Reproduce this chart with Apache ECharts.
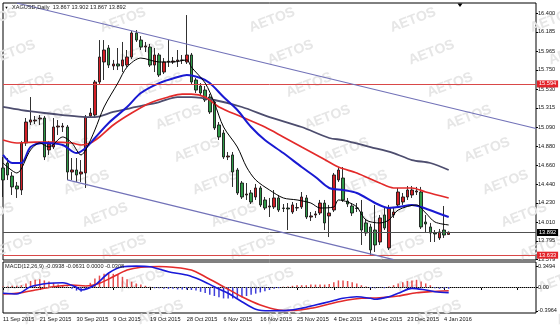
<!DOCTYPE html>
<html><head><meta charset="utf-8">
<script src="https://cdn.jsdelivr.net/npm/echarts@6.0.0/dist/echarts.min.js"></script>
<style>html,body{margin:0;padding:0;background:#fff}#c{width:560px;height:328px}</style>
</head><body><div id="c"></div>
<script>
// ---------- DATA ----------
const dates = ['11 Sep 2015','13 Sep 2015','14 Sep 2015','15 Sep 2015','16 Sep 2015','17 Sep 2015','18 Sep 2015','20 Sep 2015','21 Sep 2015','22 Sep 2015',
'23 Sep 2015','24 Sep 2015','25 Sep 2015','27 Sep 2015','28 Sep 2015','29 Sep 2015','30 Sep 2015','1 Oct 2015','2 Oct 2015','4 Oct 2015',
'5 Oct 2015','6 Oct 2015','7 Oct 2015','8 Oct 2015','9 Oct 2015','11 Oct 2015','12 Oct 2015','13 Oct 2015','14 Oct 2015','15 Oct 2015',
'16 Oct 2015','18 Oct 2015','19 Oct 2015','20 Oct 2015','21 Oct 2015','22 Oct 2015','23 Oct 2015','25 Oct 2015','26 Oct 2015','27 Oct 2015',
'28 Oct 2015','29 Oct 2015','30 Oct 2015','1 Nov 2015','2 Nov 2015','3 Nov 2015','4 Nov 2015','5 Nov 2015','6 Nov 2015','8 Nov 2015',
'9 Nov 2015','10 Nov 2015','11 Nov 2015','12 Nov 2015','13 Nov 2015','15 Nov 2015','16 Nov 2015','17 Nov 2015','18 Nov 2015','19 Nov 2015',
'20 Nov 2015','22 Nov 2015','23 Nov 2015','24 Nov 2015','25 Nov 2015','26 Nov 2015','27 Nov 2015','29 Nov 2015','30 Nov 2015','1 Dec 2015',
'2 Dec 2015','3 Dec 2015','4 Dec 2015','6 Dec 2015','7 Dec 2015','8 Dec 2015','9 Dec 2015','10 Dec 2015','11 Dec 2015','13 Dec 2015',
'14 Dec 2015','15 Dec 2015','16 Dec 2015','17 Dec 2015','18 Dec 2015','20 Dec 2015','21 Dec 2015','22 Dec 2015','23 Dec 2015','24 Dec 2015',
'27 Dec 2015','28 Dec 2015','29 Dec 2015','30 Dec 2015','31 Dec 2015','3 Jan 2016','4 Jan 2016','5 Jan 2016'];
const emptySlots = 19; // chart shift area on the right

const opens = [14.628,14.685,14.536,14.422,14.376,14.914,15.154,15.166,15.189,15.200,
14.834,14.868,15.097,15.097,15.097,14.582,14.605,14.559,14.571,15.223,
15.234,15.612,15.841,16.001,15.795,15.818,15.795,15.806,15.898,16.173,
16.092,16.012,16.012,15.806,15.921,15.726,15.841,15.841,15.852,15.864,
15.841,15.921,15.635,15.566,15.520,15.440,15.383,15.120,15.028,14.754,
14.777,14.605,14.456,14.319,14.342,14.296,14.399,14.262,14.182,14.182,
14.285,14.170,14.170,14.124,14.170,14.182,14.285,14.067,14.090,14.113,
14.227,14.079,14.147,14.491,14.513,14.250,14.193,14.170,14.124,13.999,
13.953,13.918,13.781,14.090,13.713,14.090,14.205,14.239,14.296,14.319,
14.353,14.353,14.010,13.953,13.884,13.827,13.918,13.867];
const closes = [14.491,14.548,14.411,14.388,14.914,15.154,15.177,15.177,15.200,14.754,
14.902,15.097,15.108,15.108,14.582,14.605,14.548,14.582,15.211,15.257,
15.612,15.898,15.978,15.806,15.818,15.795,15.864,15.898,16.173,16.092,
16.012,16.024,15.806,15.921,15.692,15.841,15.850,15.852,15.864,15.860,
15.921,15.612,15.520,15.486,15.406,15.269,15.086,14.983,14.754,14.765,
14.582,14.342,14.296,14.330,14.239,14.399,14.205,14.170,14.193,14.285,
14.147,14.165,14.159,14.205,14.175,14.296,14.067,14.079,14.102,14.227,
13.999,14.113,14.548,14.605,14.262,14.216,14.113,14.165,13.918,13.884,
13.690,13.747,14.056,13.941,14.170,14.124,14.353,14.296,14.376,14.376,
14.365,13.953,13.987,13.884,13.873,13.896,13.861,13.892];
const highs = [14.754,14.742,14.582,14.468,14.937,15.200,15.440,15.223,15.234,15.223,
14.937,15.200,15.177,15.143,15.120,14.742,14.742,14.719,15.234,15.314,
15.635,16.092,16.092,16.035,15.864,16.001,16.070,15.978,16.195,16.207,
16.138,16.070,16.047,16.001,15.944,15.886,16.092,15.898,15.978,15.921,
16.378,15.944,15.658,15.600,15.566,15.475,15.406,15.154,15.063,14.811,
14.811,14.628,14.479,14.456,14.376,14.445,14.422,14.296,14.285,14.376,
14.319,14.216,14.227,14.239,14.227,14.353,14.319,14.124,14.136,14.262,
14.262,14.205,14.571,14.639,14.639,14.285,14.227,14.227,14.262,14.044,
13.987,14.205,14.090,14.182,14.205,14.170,14.399,14.342,14.422,14.422,
14.411,14.411,14.090,13.999,13.918,13.930,14.193,13.902];
const lows = [14.296,14.491,14.319,14.285,14.319,14.880,15.120,15.131,15.120,14.719,
14.777,14.845,15.005,15.040,14.491,14.491,14.468,14.468,14.399,15.200,
15.211,15.589,15.635,15.772,15.749,15.749,15.726,15.784,15.875,16.070,
15.978,15.955,15.784,15.726,15.669,15.703,15.784,15.818,15.784,15.818,
15.818,15.589,15.486,15.452,15.383,15.246,15.063,14.948,14.731,14.719,
14.411,14.319,14.273,14.262,14.216,14.262,14.182,14.147,14.067,14.159,
14.124,14.124,13.918,14.102,14.136,14.159,14.044,14.021,14.056,14.090,
13.918,13.838,14.124,14.468,14.239,14.182,14.079,14.124,13.747,13.850,
13.633,13.667,13.747,13.918,13.690,14.056,14.170,14.205,14.262,14.285,
14.319,13.930,13.884,13.781,13.781,13.804,13.827,13.867];

// moving averages: [barIndex, price]
const maFast = [[0,14.685],[3,14.571],[6,14.834],[8,14.914],[10,14.868],[13,14.983],[15,14.914],[17,14.777],[18,14.834],[20,15.063],[22,15.326],[25,15.600],[27,15.783],[30,15.886],[34,15.841],[37,15.841],[40,15.864],[41,15.783],[44,15.600],[46,15.372],[48,15.097],[51,14.868],[53,14.639],[55,14.491],[58,14.376],[61,14.285],[64,14.262],[67,14.227],[69,14.170],[72,14.182],[73,14.262],[75,14.239],[77,14.182],[79,14.033],[82,13.999],[84,14.033],[86,14.147],[90,14.205],[92,14.113],[94,14.010],[97,13.976]];
const maMid = [[0,14.777],[2,14.685],[4,14.685],[6,14.868],[9,14.914],[13,14.891],[16,14.799],[18,14.857],[20,14.971],[23,15.143],[27,15.326],[30,15.486],[34,15.600],[38,15.669],[40,15.692],[43,15.658],[45,15.600],[48,15.440],[51,15.291],[54,15.097],[57,14.948],[61,14.799],[65,14.639],[68,14.525],[71,14.399],[74,14.376],[77,14.342],[81,14.227],[84,14.170],[86,14.182],[89,14.205],[91,14.182],[94,14.124],[97,14.067]];
const maSlow = [[0,14.948],[3,14.914],[7,14.925],[11,14.925],[15,14.914],[17,14.891],[19,14.914],[21,14.983],[24,15.120],[28,15.257],[32,15.372],[36,15.440],[39,15.474],[41,15.474],[44,15.440],[47,15.326],[52,15.211],[57,15.097],[61,14.983],[65,14.868],[69,14.754],[73,14.639],[77,14.571],[82,14.456],[85,14.399],[89,14.399],[92,14.353],[97,14.285]];
const maLong = [[0,15.326],[4,15.291],[9,15.257],[13,15.234],[18,15.211],[20,15.211],[24,15.269],[29,15.326],[34,15.383],[38,15.440],[41,15.440],[46,15.406],[52,15.326],[58,15.211],[65,15.097],[71,14.971],[74,14.948],[80,14.868],[85,14.799],[89,14.719],[93,14.685],[97,14.605]];

// MACD(12,26,9)
const macdLine = [[0,-0.105],[3,-0.117],[6,0.005],[10,0.062],[13,0.072],[16,-0.005],[17,-0.050],[20,0.033],[23,0.233],[26,0.338],[29,0.349],[32,0.338],[36,0.255],[40,0.200],[43,0.117],[46,0.005],[49,-0.105],[52,-0.245],[55,-0.370],[58,-0.396],[62,-0.390],[65,-0.355],[68,-0.300],[71,-0.245],[74,-0.188],[77,-0.162],[80,-0.188],[81,-0.205],[84,-0.162],[86,-0.105],[89,-0.022],[92,-0.050],[94,-0.078],[97,-0.094]];
const signalLine = [[0,-0.117],[4,-0.095],[7,-0.050],[11,0.005],[15,0.033],[18,0.017],[21,0.062],[24,0.172],[27,0.283],[30,0.330],[34,0.342],[37,0.330],[41,0.283],[44,0.172],[48,0.005],[52,-0.162],[56,-0.300],[60,-0.383],[63,-0.392],[67,-0.355],[71,-0.283],[75,-0.217],[78,-0.188],[82,-0.178],[86,-0.150],[90,-0.095],[93,-0.078],[97,-0.063]];
const macdHist = [0.01,0.01,0.02,0.02,0.03,0.06,0.10,0.12,0.13,0.11,
0.09,0.07,0.04,0.03,0.01,-0.03,-0.06,-0.08,-0.04,0.07,
0.14,0.19,0.22,0.23,0.22,0.20,0.17,0.13,0.09,0.06,
0.04,0.02,0.005,-0.02,-0.02,-0.03,-0.03,-0.03,-0.04,-0.04,
-0.04,-0.05,-0.06,-0.08,-0.10,-0.13,-0.15,-0.17,-0.19,-0.19,
-0.19,-0.18,-0.17,-0.15,-0.13,-0.11,-0.09,-0.07,-0.05,-0.03,
-0.02,0.005,0.01,0.02,0.03,0.03,0.03,0.04,0.04,0.04,
0.04,0.05,0.08,0.11,0.11,0.10,0.08,0.06,0.03,0.01,
-0.02,-0.02,-0.01,-0.02,0.01,0.03,0.06,0.08,0.10,0.11,
0.12,0.09,0.06,0.03,-0.02,-0.03,-0.03,-0.03];

// horizontal levels and channel
const levelResistance = 15.594;
const levelBid = 13.892;
const levelSupport = 13.633;
const levelTexts = ['15.594','13.892','13.633'];
const channelUpper = [[3,16.516],[116,15.080]];
const channelLower = [[14,14.491],[85,13.580]];

// tick labels
const priceTicks = [16.400,16.185,15.965,15.750,15.530,15.315,15.090,14.880,14.660,14.440,14.230,14.010,13.795,13.579];
const macdTicks = [0.3494,0,-0.3964];
const macdTickLabels = ['0.3494','0.00','-0.3964'];
const headerText = 'XAGUSD,Daily  13.867 13.902 13.867 13.892';
const macdHeader = 'MACD(12,26,9) -0.0938 -0.0631 0.0000 -0.0308';
const watermark = 'AETOS';

// ---------- CHART ----------
const FONT = 'Liberation Sans';
const FS = 5.6;
const cats = dates.slice();
for (let i = 0; i < emptySlots; i++) cats.push('');
const candleData = opens.map((o, i) => [o, closes[i], lows[i], highs[i]]);

const graphics = [];
// watermarks (layout only)
const wmColumns = [-46, 68, 197, 346, 487, 627];
wmColumns.forEach(cx => {
  for (let k = -6; k <= 6; k++) {
    const x = cx + 18.5 * k, y = 150 + 32.5 * k;
    if (x < -40 || x > 600 || y < -15 || y > 345) continue;
    graphics.push({type:'text', x, y, rotation:0.36, z:0, silent:true,
      style:{text:watermark, fill:'#e6e6e6', font:'bold 14px "'+FONT+'"', textAlign:'center', textVerticalAlign:'middle'}});
  }
});
graphics.push({type:'text', x:4.5, y:7.5, z:50, style:{text:'▼', fill:'#000', font:'4px "'+FONT+'"', textVerticalAlign:'middle'}});
graphics.push({type:'text', x:12, y:7.5, z:50, style:{text:headerText, fill:'#222', font:FS+'px "'+FONT+'"', textVerticalAlign:'middle'}});
graphics.push({type:'text', x:5, y:266.5, z:50, style:{text:macdHeader, fill:'#222', font:FS+'px "'+FONT+'"', textVerticalAlign:'middle'}});
graphics.push({type:'polygon', z:50, shape:{points:[[457.5,3.5],[462.5,3.5],[460,7]]}, style:{fill:'#000'}});

const levelLabel = (bg, txt) => ({show:true, position:'end', distance:1, formatter:txt,
  backgroundColor:bg, color:'#fff', padding:[1,2,0,2], fontSize:FS, fontFamily:FONT});

const option = {
  animation:false,
  backgroundColor:'#fff',
  textStyle:{fontFamily:FONT},
  graphic:graphics,
  grid:[
    {left:3, top:3, width:533, height:257, show:true, borderColor:'#000', borderWidth:1, backgroundColor:'transparent'},
    {left:3, top:262, width:533, height:51, show:true, borderColor:'#000', borderWidth:1, backgroundColor:'transparent'}
  ],
  xAxis:[
    {type:'category', gridIndex:0, data:cats, boundaryGap:false, axisLine:{show:false}, axisTick:{show:false}, axisLabel:{show:false}, splitLine:{show:false}},
    {type:'category', gridIndex:1, data:cats, boundaryGap:false,
      axisLine:{show:true, lineStyle:{color:'#000', width:1}},
      axisTick:{show:true, interval:7, length:3, lineStyle:{color:'#000'}},
      axisLabel:{show:true, interval:7, align:'left', margin:3, fontSize:FS, color:'#111', fontFamily:FONT},
      splitLine:{show:false}}
  ],
  yAxis:[
    {type:'value', gridIndex:0, position:'right', min:13.575, max:16.516, scale:true,
      axisLine:{show:false}, splitLine:{show:false},
      axisTick:{show:true, length:2, customValues:priceTicks, lineStyle:{color:'#000'}},
      axisLabel:{show:true, customValues:priceTicks, formatter:v => v.toFixed(3), fontSize:FS, color:'#111', margin:2, fontFamily:FONT}},
    {type:'value', gridIndex:1, position:'right', min:-0.433, max:0.417,
      axisLine:{show:false}, splitLine:{show:false},
      axisTick:{show:true, length:2, customValues:macdTicks, lineStyle:{color:'#000'}},
      axisLabel:{show:true, customValues:macdTicks, formatter:v => macdTickLabels[macdTicks.findIndex(t => Math.abs(t - v) < 1e-6)] || '', fontSize:FS, color:'#111', margin:2, fontFamily:FONT}}
  ],
  series:[
    {type:'candlestick', xAxisIndex:0, yAxisIndex:0, data:candleData, barWidth:3, z:3, clip:true,
      itemStyle:{color:'#d41f26', color0:'#2f9a48', borderColor:'#1a1a1a', borderColor0:'#1a1a1a', borderWidth:0.9},
      markLine:{symbol:'none', silent:true, animation:false,
        data:[
          {yAxis:levelResistance, lineStyle:{color:'#d94848', width:1, type:'solid'}, label:levelLabel('#e3242b', levelTexts[0])},
          {yAxis:levelBid, lineStyle:{color:'#505050', width:1, type:'solid'}, label:levelLabel('#000', levelTexts[1])},
          {yAxis:levelSupport, lineStyle:{color:'#d94848', width:1, type:'solid'}, label:levelLabel('#e3242b', levelTexts[2])},
          [{coord:channelUpper[0]}, {coord:channelUpper[1], lineStyle:{color:'#7272b8', width:1.2, type:'solid'}, label:{show:false}}],
          [{coord:channelLower[0]}, {coord:channelLower[1], lineStyle:{color:'#7272b8', width:1.2, type:'solid'}, label:{show:false}}]
        ]}},
    {type:'line', xAxisIndex:0, yAxisIndex:0, data:maLong, showSymbol:false, smooth:0.3, z:4, lineStyle:{color:'#4d4d6e', width:1.8}},
    {type:'line', xAxisIndex:0, yAxisIndex:0, data:maSlow, showSymbol:false, smooth:0.3, z:4, lineStyle:{color:'#e32a2a', width:1.7}},
    {type:'line', xAxisIndex:0, yAxisIndex:0, data:maMid, showSymbol:false, smooth:0.3, z:4, lineStyle:{color:'#1919d2', width:2}},
    {type:'line', xAxisIndex:0, yAxisIndex:0, data:maFast, showSymbol:false, smooth:0.3, z:5, lineStyle:{color:'#000', width:1}},
    {type:'bar', xAxisIndex:1, yAxisIndex:1, data:macdHist, barWidth:1.5, z:3,
      itemStyle:{color:p => p.value >= 0 ? '#e23a3a' : '#2a2ad6', opacity:0.9},
      markLine:{symbol:'none', silent:true, animation:false, label:{show:false},
        data:[{yAxis:0, lineStyle:{color:'#888', width:1, type:'dotted'}}]}},
    {type:'line', xAxisIndex:1, yAxisIndex:1, data:signalLine, showSymbol:false, smooth:0.3, z:4, lineStyle:{color:'#e32a2a', width:1.6}},
    {type:'line', xAxisIndex:1, yAxisIndex:1, data:macdLine, showSymbol:false, smooth:0.3, z:5, lineStyle:{color:'#1919d8', width:1.6}}
  ]
};
const chart = echarts.init(document.getElementById('c'), null, {renderer:'canvas'});
chart.setOption(option);
</script></body></html>
